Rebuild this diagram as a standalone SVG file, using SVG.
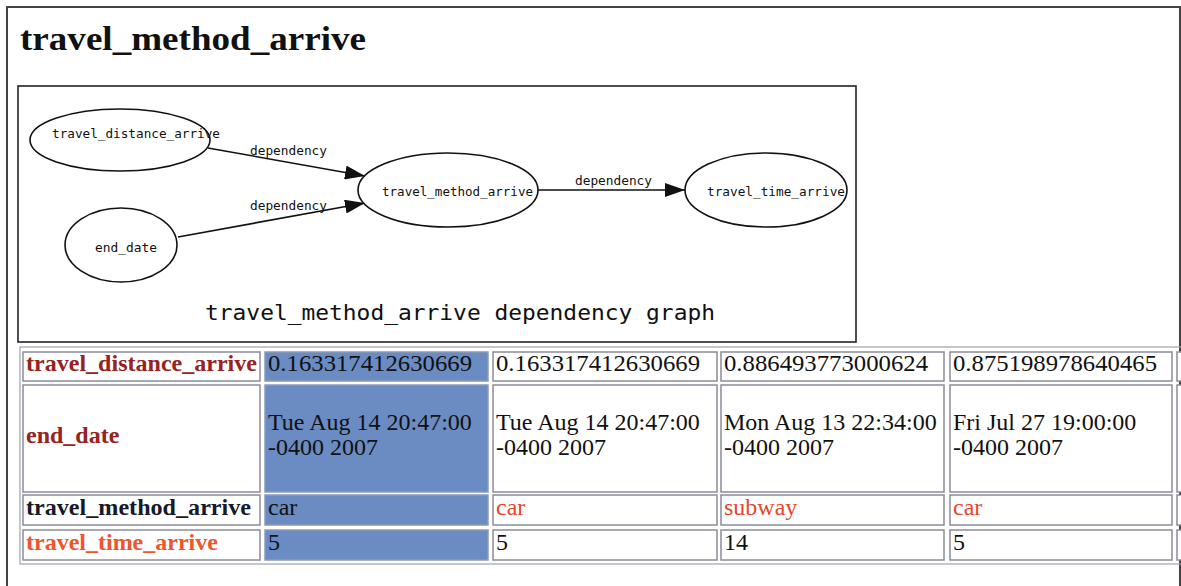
<svg xmlns="http://www.w3.org/2000/svg" width="1181" height="586" viewBox="0 0 1181 586">
<style>
.frame{fill:none;stroke:#444;stroke-width:2}
.gbox{fill:#fff;stroke:#222;stroke-width:1.6}
.node{fill:#fff;stroke:#111;stroke-width:1.6}
.nl{font-family:"DejaVu Sans Mono","Liberation Mono",monospace;font-size:12px;fill:#111}
.el{font-family:"DejaVu Sans Mono","Liberation Mono",monospace;font-size:12px;fill:#111}
.edge{fill:none;stroke:#111;stroke-width:1.6}
.cap{font-family:"DejaVu Sans Mono","Liberation Mono",monospace;font-size:22px;fill:#111}
.title{font-family:"Liberation Serif","Times New Roman",serif;font-weight:bold;font-size:34px;fill:#111}
.cell{fill:#fff;stroke:#8c8c99;stroke-width:1.5}
.hl{fill:#6b8bc3;stroke:#8c9bb5;stroke-width:1.5}
.td{font-family:"Liberation Serif","Times New Roman",serif;font-size:24px;fill:#111}
.th{font-family:"Liberation Serif","Times New Roman",serif;font-size:24px;font-weight:bold}
.red{fill:#e8462a}
</style>
<defs>
<marker id="arr" markerUnits="userSpaceOnUse" markerWidth="20" markerHeight="14" refX="20" refY="7" orient="auto">
<path d="M0,0 L20,7 L0,14 z" fill="#111"/>
</marker>
</defs>
<rect x="0" y="0" width="1181" height="586" fill="#fff"/>
<path class="frame" d="M7,590 V7 H1180 V590"/>
<text class="title" x="20" y="50" textLength="346" lengthAdjust="spacingAndGlyphs">travel_method_arrive</text>

<g id="graph">
<rect class="gbox" x="18" y="86" width="838" height="256"/>
<text class="cap" x="205" y="320" textLength="510" lengthAdjust="spacingAndGlyphs">travel_method_arrive dependency graph</text>
</g>

<g id="connectors">
<line class="edge" x1="208" y1="148" x2="365" y2="176" marker-end="url(#arr)"/>
<line class="edge" x1="178" y1="237" x2="365" y2="203" marker-end="url(#arr)"/>
<line class="edge" x1="538" y1="190" x2="685" y2="190" marker-end="url(#arr)"/>
<text class="el" x="250" y="155" textLength="77" lengthAdjust="spacingAndGlyphs">dependency</text>
<text class="el" x="250" y="210" textLength="77" lengthAdjust="spacingAndGlyphs">dependency</text>
<text class="el" x="575" y="185" textLength="77" lengthAdjust="spacingAndGlyphs">dependency</text>
</g>

<g id="node-travel_distance_arrive">
<ellipse class="node" cx="120" cy="140" rx="90" ry="31"/>
<text class="nl" x="52" y="138" textLength="168" lengthAdjust="spacingAndGlyphs">travel_distance_arrive</text>
</g>
<g id="node-end_date">
<ellipse class="node" cx="121" cy="245" rx="56" ry="37"/>
<text class="nl" x="95" y="252" textLength="62" lengthAdjust="spacingAndGlyphs">end_date</text>
</g>
<g id="node-travel_method_arrive">
<ellipse class="node" cx="448" cy="190" rx="90" ry="37"/>
<text class="nl" x="382" y="196" textLength="151" lengthAdjust="spacingAndGlyphs">travel_method_arrive</text>
</g>
<g id="node-travel_time_arrive">
<ellipse class="node" cx="766" cy="190" rx="81" ry="37"/>
<text class="nl" x="707" y="196" textLength="138" lengthAdjust="spacingAndGlyphs">travel_time_arrive</text>
</g>

<g id="table">
<rect x="20" y="347" width="1170" height="217" fill="none" stroke="#a0a0b0" stroke-width="1.2"/>
<rect class="cell" x="23" y="352" width="237" height="29"/>
<rect class="hl" x="265" y="352" width="223" height="29"/>
<rect class="cell" x="493" y="352" width="224" height="29"/>
<rect class="cell" x="721" y="352" width="223" height="29"/>
<rect class="cell" x="950" y="352" width="222" height="29"/>
<rect class="cell" x="1177" y="352" width="20" height="29"/>
<rect class="cell" x="23" y="385" width="237" height="107"/>
<rect class="hl" x="265" y="385" width="223" height="107"/>
<rect class="cell" x="493" y="385" width="224" height="107"/>
<rect class="cell" x="721" y="385" width="223" height="107"/>
<rect class="cell" x="950" y="385" width="222" height="107"/>
<rect class="cell" x="1177" y="385" width="20" height="107"/>
<rect class="cell" x="23" y="495" width="237" height="30"/>
<rect class="hl" x="265" y="495" width="223" height="30"/>
<rect class="cell" x="493" y="495" width="224" height="30"/>
<rect class="cell" x="721" y="495" width="223" height="30"/>
<rect class="cell" x="950" y="495" width="222" height="30"/>
<rect class="cell" x="1177" y="495" width="20" height="30"/>
<rect class="cell" x="23" y="530" width="237" height="30"/>
<rect class="hl" x="265" y="530" width="223" height="30"/>
<rect class="cell" x="493" y="530" width="224" height="30"/>
<rect class="cell" x="721" y="530" width="223" height="30"/>
<rect class="cell" x="950" y="530" width="222" height="30"/>
<rect class="cell" x="1177" y="530" width="20" height="30"/>

<text class="th" x="26" y="371" fill="#962222" textLength="231" lengthAdjust="spacingAndGlyphs">travel_distance_arrive</text>
<text class="th" x="26" y="443" fill="#962222">end_date</text>
<text class="th" x="26" y="515" fill="#151a2a" textLength="225" lengthAdjust="spacingAndGlyphs">travel_method_arrive</text>
<text class="th" x="26" y="550" fill="#f0542c">travel_time_arrive</text>

<text class="td" x="268" y="371" textLength="204" lengthAdjust="spacingAndGlyphs">0.163317412630669</text>
<text class="td" x="496" y="371" textLength="204" lengthAdjust="spacingAndGlyphs">0.163317412630669</text>
<text class="td" x="724" y="371" textLength="204" lengthAdjust="spacingAndGlyphs">0.886493773000624</text>
<text class="td" x="953" y="371" textLength="204" lengthAdjust="spacingAndGlyphs">0.875198978640465</text>

<text class="td" x="268" y="430">Tue Aug 14 20:47:00</text>
<text class="td" x="268" y="455">-0400 2007</text>
<text class="td" x="496" y="430">Tue Aug 14 20:47:00</text>
<text class="td" x="496" y="455">-0400 2007</text>
<text class="td" x="724" y="430">Mon Aug 13 22:34:00</text>
<text class="td" x="724" y="455">-0400 2007</text>
<text class="td" x="953" y="430">Fri Jul 27 19:00:00</text>
<text class="td" x="953" y="455">-0400 2007</text>

<text class="td" x="268" y="515">car</text>
<text class="td red" x="496" y="515">car</text>
<text class="td red" x="724" y="515">subway</text>
<text class="td red" x="953" y="515">car</text>

<text class="td" x="268" y="550">5</text>
<text class="td" x="496" y="550">5</text>
<text class="td" x="724" y="550">14</text>
<text class="td" x="953" y="550">5</text>
</g>
</svg>
